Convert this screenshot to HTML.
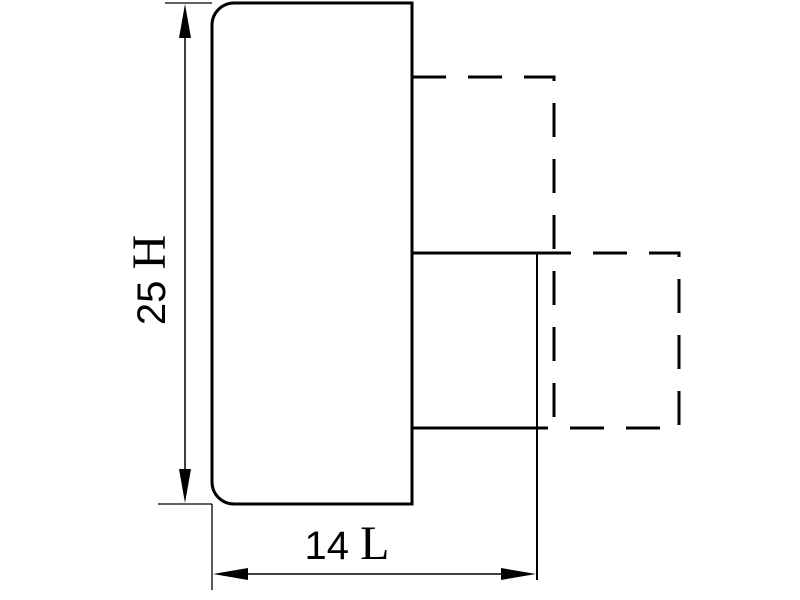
<!DOCTYPE html>
<html><head><meta charset="utf-8"><style>html,body{margin:0;padding:0;background:#fff;width:800px;height:600px;overflow:hidden}</style></head>
<body>
<svg width="800" height="600" viewBox="0 0 800 600" xmlns="http://www.w3.org/2000/svg">
<rect width="800" height="600" fill="#fff"/>
<g fill="none" stroke="#000">
<path d="M412 3 H234 A22 22 0 0 0 212 25 V482 A22 22 0 0 0 234 504 H412 Z" stroke-width="3"/>
<path d="M412 253 H537 M412 428 H537" stroke-width="3"/>
<path d="M537 253 V580" stroke-width="2"/>
<path d="M412 77 H554 V428" stroke-width="3" stroke-dasharray="34,22"/>
<path d="M537 253 H679 V428 H537" stroke-width="3" stroke-dasharray="34,22"/>
<path d="M165 3 H212 M158 504 H212 M212 504 V590" stroke-width="1.3"/>
<path d="M185 20 V488 M228 574 H522" stroke-width="1.5"/>
</g>
<g fill="#000">
<polygon points="185,4 179,38 191,38"/>
<polygon points="185,503 179,469 191,469"/>
<polygon points="213,574 248,568 248,580"/>
<polygon points="536,574 501,568 501,580"/>
</g>
<text x="0" y="0" transform="translate(165,280) rotate(-90)" text-anchor="middle" font-size="40" font-family="Liberation Sans, sans-serif">25 <tspan font-family="Liberation Serif, serif" font-size="48">H</tspan></text>
<text x="347" y="559" text-anchor="middle" font-size="40" font-family="Liberation Sans, sans-serif">14 <tspan font-family="Liberation Serif, serif" font-size="48">L</tspan></text>
</svg>
</body></html>
